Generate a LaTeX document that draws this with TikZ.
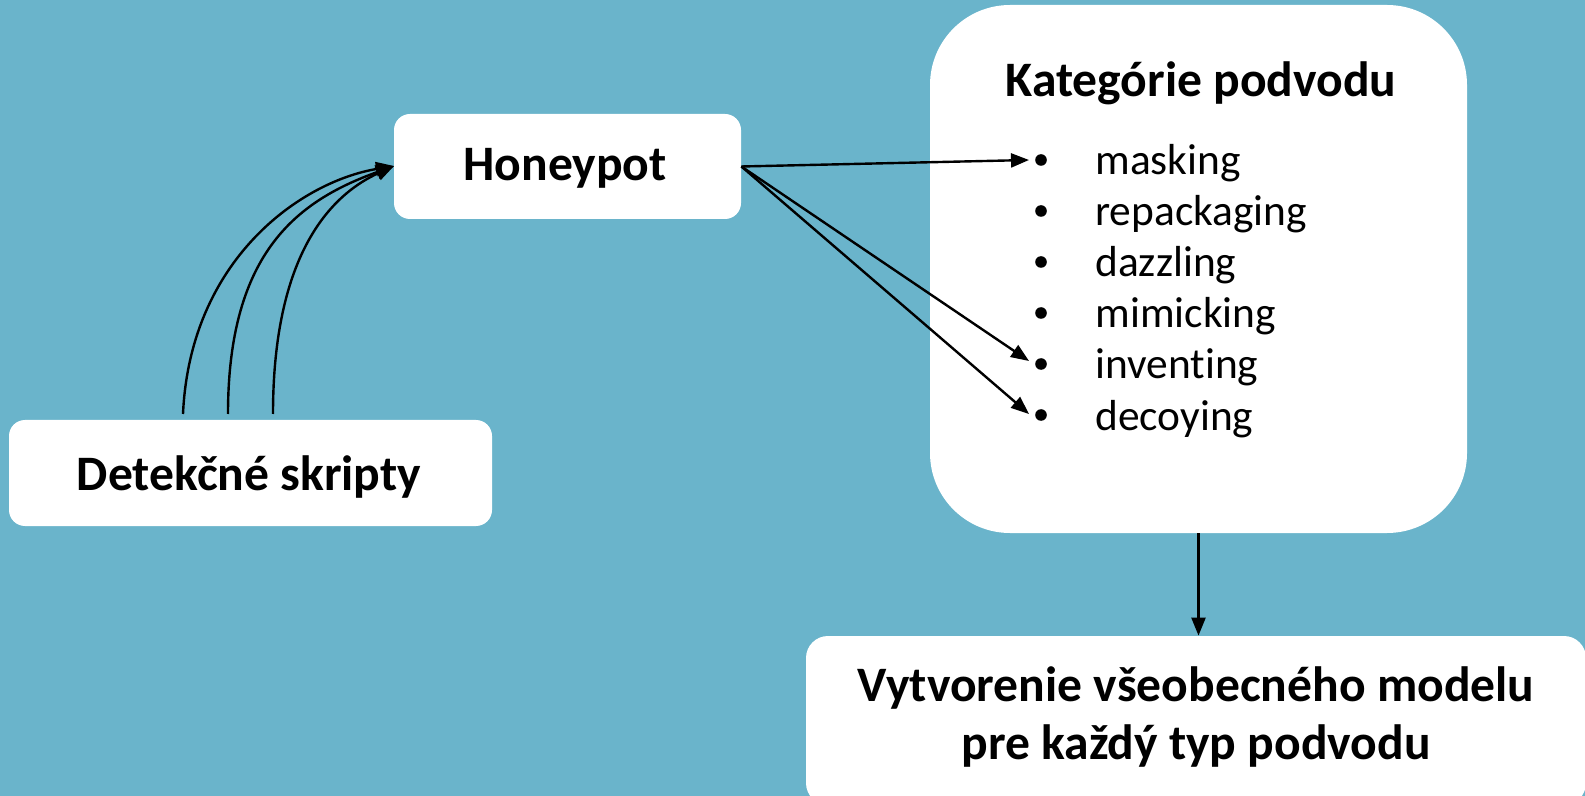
\documentclass[tikz,border=0pt]{standalone}
\usepackage{fontspec}
\setmainfont{Carlito}[Ligatures={NoCommon}]
\usetikzlibrary{arrows.meta}
\definecolor{bg}{RGB}{106,180,203}
\begin{document}
\begin{tikzpicture}[x=0.5pt,y=-0.5pt,
  box/.style={fill=white, draw=none, inner sep=0pt},
  title/.style={font=\fontsize{24.8}{29}\selectfont\bfseries, anchor=base, inner sep=0pt, align=center},
  item/.style={font=\fontsize{21.7}{26}\selectfont, anchor=base west, inner sep=0pt},
  bul/.style={circle, fill=black, inner sep=0pt, minimum size=5.8pt},
  conn/.style={draw=black, line width=1.2pt, -{Triangle[length=9pt,width=7pt]}}]
\useasboundingbox[fill=bg] (0,0) rectangle (1585,796);
% boxes
\node[box, rounded corners=8pt, minimum width=173.5pt, minimum height=52.5pt] (hp) at (567.5,166.5) {};
\node[box, rounded corners=8pt, minimum width=241.5pt, minimum height=53pt] (det) at (250.5,473) {};
\node[box, rounded corners=40pt, minimum width=268.5pt, minimum height=264pt] (kat) at (1198.5,269) {};
\node[box, rounded corners=11pt, minimum width=390pt, minimum height=84.5pt] (vyt) at (1196,720.5) {};
% texts
\node[title] (thp) at (565,181) {Honeypot};
\node[title] (tdet) at (249,490) {Detekčné skripty};
\node[title] (tkat) at (1201,97) {Kategórie podvodu};
\node[title] (tvyt1) at (1196,701) {Vytvorenie všeobecného modelu};
\node[title] (tvyt2) at (1196,759) {pre každý typ podvodu};
% list
\node[bul] (b1) at (1041,160) {};
\node[bul] (b2) at (1041,211) {};
\node[bul] (b3) at (1041,262) {};
\node[bul] (b4) at (1041,313) {};
\node[bul] (b5) at (1041,364) {};
\node[bul] (b6) at (1041,415) {};
\node[item] (i1) at (1095,175) {masking};
\node[item] (i2) at (1095,226) {repackaging};
\node[item] (i3) at (1095,277) {dazzling};
\node[item] (i4) at (1095,328) {mimicking};
\node[item] (i5) at (1095,379) {inventing};
\node[item] (i6) at (1095,430) {decoying};
% connector ends
\coordinate (s1) at (183,414);
\coordinate (s2) at (228,414);
\coordinate (s3) at (273,414);
\coordinate (a1) at (1029,160);
\coordinate (a5) at (1029,361);
\coordinate (a6) at (1029,414);
\coordinate (hin) at (394,166);
% curves
\draw[conn] (s1) .. controls (190,260) and (300,182) .. (hin);
\draw[conn] (s2) .. controls (228,250) and (300,200) .. (hin);
\draw[conn] (s3) .. controls (273,270) and (320,200) .. (hin);
% right arrows
\draw[conn] (hp.east) -- (a1);
\draw[conn] (hp.east) -- (a5);
\draw[conn] (hp.east) -- (a6);
% down arrow
\draw[conn] (kat.south) -- (kat.south |- vyt.north);
\end{tikzpicture}
\end{document}
